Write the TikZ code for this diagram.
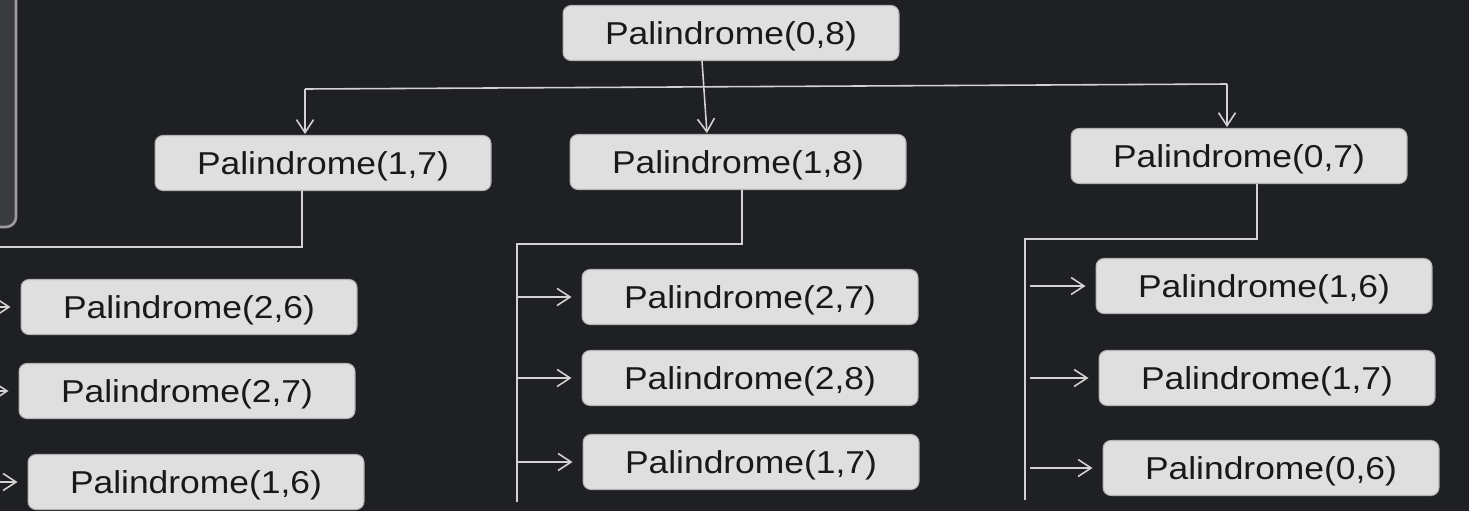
\documentclass[tikz,border=0pt]{standalone}
\usepackage{fontspec}
\setmainfont{Liberation Sans}[FakeStretch=1.12]
\usetikzlibrary{arrows.meta}
\definecolor{bgdark}{HTML}{1E2023}
\definecolor{boxgray}{HTML}{DFDFDF}
\definecolor{boxedge}{HTML}{B4B4B4}
\definecolor{linegray}{HTML}{D2D2D2}
\definecolor{panelgray}{HTML}{3A3B3E}
\definecolor{paneledge}{HTML}{9C9C9C}
\tikzset{
  callbox/.style = {rectangle, rounded corners=0.16cm, fill=boxgray, draw=boxedge,
    line width=0.6pt, minimum width=6.72cm, minimum height=1.1cm, inner sep=0pt,
    text height=14pt, text depth=0.4pt,
    text=black!90, font=\fontsize{18}{22}\selectfont},% one call
  link/.style = {draw=linegray, line width=0.9pt},% plain line
  call/.style = {link, -{Straight Barb[length=2.6mm,width=3.4mm]}, shorten >=0.5pt},% arrow down
  callside/.style = {call, shorten >=0.2cm}% arrow to a box on the right
}

\begin{document}
\begin{tikzpicture}[x=0.02cm,y=-0.02cm]
\fill[bgdark] (0,0) rectangle (1469,511);
\useasboundingbox (0,0) rectangle (1469,511);
\clip (0,0) rectangle (1469,511);
% panel at the top left
\draw[fill=panelgray, draw=paneledge, line width=1.5pt, rounded corners=0.2cm] (-40,-40) rectangle (16,227);
% calls
\node [callbox] (root) at (731,33) {Palindrome(0,8)};
\node [callbox] (c17) at (323,163) {Palindrome(1,7)};
\node [callbox] (c18) at (738,162) {Palindrome(1,8)};
\node [callbox] (c07) at (1239,156) {Palindrome(0,7)};
\node [callbox] (l26) at (189,307) {Palindrome(2,6)};
\node [callbox] (l27) at (187,391) {Palindrome(2,7)};
\node [callbox] (l16) at (196,482) {Palindrome(1,6)};
\node [callbox] (m27) at (750,297) {Palindrome(2,7)};
\node [callbox] (m28) at (750,378) {Palindrome(2,8)};
\node [callbox] (m17) at (751,462) {Palindrome(1,7)};
\node [callbox] (r16) at (1264,286) {Palindrome(1,6)};
\node [callbox] (r17) at (1267,378) {Palindrome(1,7)};
\node [callbox] (r06) at (1271,468) {Palindrome(0,6)};
% first level
\coordinate (tl) at (305,89);
\coordinate (tr) at (1227,84);
\draw[link] (tl) -- (tr);
\draw[call] (tl) -- (tl |- c17.north);
\draw[call] (tr) -- (tr |- c07.north);
\draw[call] ([xshift=-0.58cm]root.south) -- ([xshift=-0.62cm]c18.north);
% second level
\coordinate (lknee) at (302,247);
\coordinate (lbus) at (-10,247);
\coordinate (lend) at (-10,530);
\draw[link] (c17.south -| lknee) -- (lknee) -- (lbus) -- (lend);
\foreach \n in {l26,l27,l16}
  \draw[callside] (lbus |- \n) -- (\n.west);
\coordinate (mknee) at (742,244);
\coordinate (mbus) at (517,244);
\coordinate (mend) at (517,502);
\draw[link] (c18.south -| mknee) -- (mknee) -- (mbus) -- (mend);
\foreach \n in {m27,m28,m17}
  \draw[callside] (mbus |- \n) -- (\n.west);
\coordinate (rknee) at (1257,239);
\coordinate (rbus) at (1025,239);
\coordinate (rend) at (1025,500);
\draw[link] (c07.south -| rknee) -- (rknee) -- (rbus) -- (rend);
\foreach \n in {r16,r17,r06}
  \draw[callside] ([xshift=0.1cm]rbus |- \n) -- (\n.west);
\end{tikzpicture}
\end{document}
